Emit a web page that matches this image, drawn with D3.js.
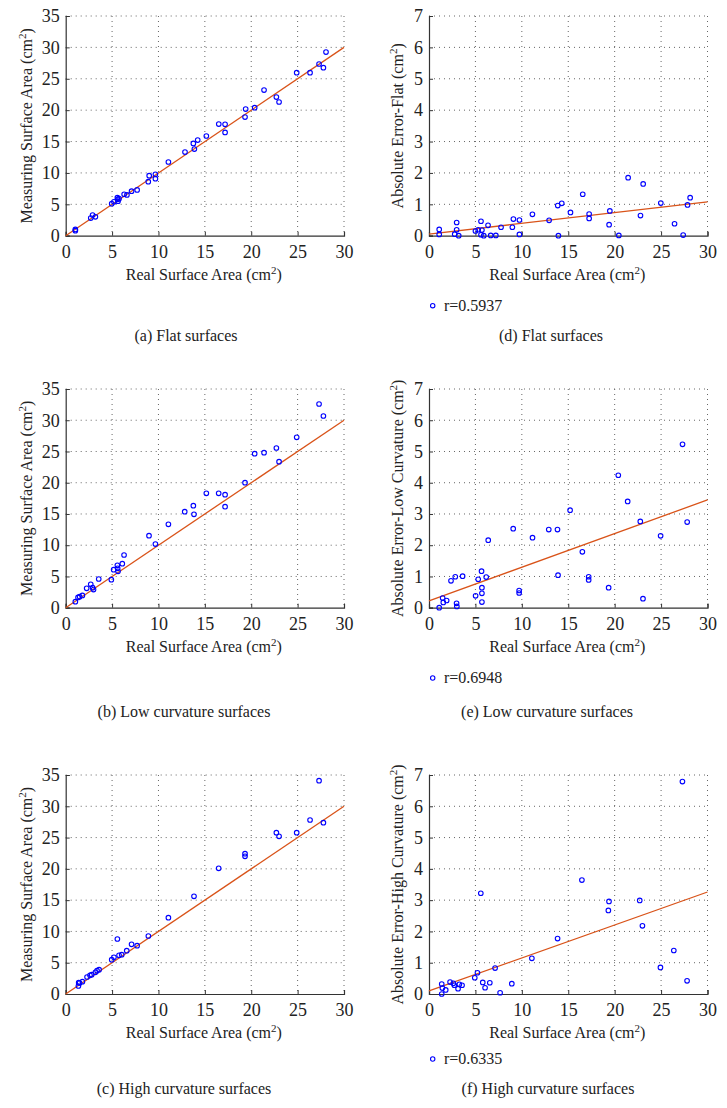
<!DOCTYPE html>
<html>
<head>
<meta charset="utf-8">
<script src="https://cdn.jsdelivr.net/npm/d3@7"></script>
<style>
  html, body { margin: 0; padding: 0; background: #fff; }
  svg text { font-family: "Liberation Serif", "DejaVu Serif", serif; fill: #222; }
</style>
</head>
<body>
<svg id="chart" width="727" height="1108"></svg>
<script>
// ---------- DATA ----------
const xTicks = [0, 5, 10, 15, 20, 25, 30];
const measuredTicks = [0, 5, 10, 15, 20, 25, 30, 35];
const errorTicks = [0, 1, 2, 3, 4, 5, 6, 7];

// (a) Flat surfaces: real vs measured
const flatX = [1.04, 1.04, 2.7, 2.9, 3.2, 4.96, 5.2, 5.57, 5.6, 5.64, 5.75, 6.3, 6.6, 7.1, 7.7, 8.9, 9.0, 9.67, 9.67, 11.07, 12.86, 13.76, 13.87, 14.23, 15.16, 16.5, 17.18, 17.18, 19.33, 19.4, 20.37, 21.38, 22.71, 23.0, 24.9, 26.34, 27.31, 27.78, 28.06];
const flatMeasured = [1.0, 0.8, 2.8, 3.3, 3.0, 5.1, 5.4, 6.05, 5.8, 5.5, 5.9, 6.6, 6.5, 7.1, 7.3, 8.6, 9.56, 9.77, 9.08, 11.74, 13.33, 14.7, 13.8, 15.24, 15.88, 17.79, 17.74, 16.46, 18.9, 20.18, 20.39, 23.2, 22.09, 21.3, 25.97, 25.97, 27.35, 26.77, 29.26];

// (d) Flat surfaces: absolute error
const flatErrX = [1.1, 1.1, 2.77, 2.98, 2.98, 3.2, 5.0, 5.3, 5.6, 5.7, 5.6, 5.9, 6.36, 6.65, 7.2, 7.76, 8.98, 9.09, 9.74, 9.74, 11.14, 12.94, 13.87, 13.94, 14.3, 15.24, 16.56, 17.25, 17.25, 19.4, 19.48, 20.45, 21.45, 22.78, 23.07, 24.97, 26.45, 27.38, 27.85, 28.13];
const flatErr = [0.2, 0.04, 0.05, 0.42, 0.19, 0.0, 0.15, 0.19, 0.46, 0.18, 0.03, 0.0, 0.33, 0.01, 0.01, 0.27, 0.27, 0.53, 0.5, 0.04, 0.68, 0.49, 0.96, 0.0, 1.03, 0.74, 1.32, 0.69, 0.55, 0.35, 0.79, 0.01, 1.85, 0.64, 1.65, 1.04, 0.38, 0.02, 0.98, 1.21];

// (b) Low curvature surfaces: real vs measured
const lowX = [1.04, 1.33, 1.5, 1.8, 2.26, 2.7, 2.9, 3.0, 3.56, 4.92, 5.17, 5.57, 5.6, 5.64, 6.1, 6.29, 8.98, 9.67, 11.07, 12.83, 13.76, 13.83, 15.16, 16.49, 17.18, 17.18, 19.33, 20.37, 21.38, 22.71, 23.0, 24.9, 27.31, 27.78];
const lowMeasured = [0.96, 1.65, 1.76, 1.97, 3.1, 3.74, 3.2, 2.9, 4.59, 4.48, 6.08, 6.78, 6.3, 5.82, 7.04, 8.43, 11.53, 10.19, 13.34, 15.37, 16.33, 14.94, 18.3, 18.3, 18.09, 16.17, 20.01, 24.65, 24.81, 25.56, 23.37, 27.27, 32.6, 30.68];

// (e) Low curvature surfaces: absolute error
const lowErrX = [1.1, 1.47, 1.54, 1.9, 2.37, 2.83, 2.97, 3.0, 3.62, 5.02, 5.3, 5.66, 5.7, 5.7, 5.7, 6.16, 6.38, 9.07, 9.71, 9.71, 11.15, 12.9, 13.84, 13.9, 15.2, 16.52, 17.2, 17.2, 19.35, 20.39, 21.4, 22.76, 23.05, 24.95, 27.31, 27.81];
const lowErr = [0.0, 0.31, 0.17, 0.23, 0.86, 0.99, 0.14, 0.04, 1.01, 0.38, 0.91, 1.17, 0.64, 0.46, 0.18, 0.98, 2.16, 2.53, 0.55, 0.47, 2.24, 2.5, 2.5, 1.04, 3.12, 1.79, 0.99, 0.89, 0.64, 4.24, 3.4, 2.76, 0.29, 2.3, 5.23, 2.74];

// (c) High curvature surfaces: real vs measured
const highX = [1.37, 1.4, 1.5, 1.8, 2.3, 2.62, 2.8, 3.2, 3.38, 3.6, 4.96, 5.2, 5.57, 5.75, 6.04, 6.58, 7.1, 7.7, 8.91, 11.07, 13.83, 16.49, 19.33, 19.33, 22.71, 23.0, 24.9, 26.34, 27.31, 27.78];
const highMeasured = [1.28, 1.81, 1.76, 1.97, 2.72, 2.98, 3.09, 3.46, 3.73, 3.89, 5.49, 5.86, 8.79, 6.18, 6.29, 6.93, 7.94, 7.72, 9.27, 12.2, 15.61, 20.09, 22.43, 22.0, 25.79, 25.2, 25.79, 27.81, 34.1, 27.38];

// (f) High curvature surfaces: absolute error
const highErrX = [1.37, 1.37, 1.44, 1.8, 2.27, 2.63, 2.73, 3.13, 3.27, 3.56, 4.93, 5.22, 5.58, 5.79, 6.04, 6.55, 7.12, 7.66, 8.92, 11.08, 13.85, 16.47, 19.32, 19.39, 22.7, 22.99, 24.93, 26.37, 27.3, 27.8];
const highErr = [0.32, 0.0, 0.19, 0.13, 0.38, 0.34, 0.28, 0.17, 0.31, 0.28, 0.52, 0.68, 3.22, 0.37, 0.2, 0.36, 0.83, 0.04, 0.33, 1.14, 1.77, 3.64, 2.67, 2.96, 2.99, 2.18, 0.85, 1.39, 6.79, 0.42];

// fitted lines: value at x = 0 and x = 30
const fitX = [0, 30];
const fitMeasured = [0, 30];
const fitFlatErr = [0.05, 1.08];
const fitLowErr = [0.22, 3.45];
const fitHighErr = [0.1, 3.26];

const rLabels = ["r=0.5937", "r=0.6948", "r=0.6335"];
const titles = ["(a) Flat surfaces", "(b) Low curvature surfaces", "(c) High curvature surfaces",
                "(d) Flat surfaces", "(e) Low curvature surfaces", "(f) High curvature surfaces"];

// ---------- LAYOUT ----------
const svg = d3.select("#chart");
const colL = [65.7, 344];
const colR = [429, 707.5];
const rows = [[16, 235.7], [389, 607.7], [775, 994]];
const titleY = [341, 717, 1094];
const legendY = [305.7, 678, 1059];

const panels = [
  {xr: colL, yr: rows[0], xs: flatX, ys: flatMeasured, fit: fitMeasured, ymax: 35, yt: measuredTicks, ylab: "Measuring Surface Area", ylabOff: 34, title: titles[0], titleX: 186},
  {xr: colL, yr: rows[1], xs: lowX, ys: lowMeasured, fit: fitMeasured, ymax: 35, yt: measuredTicks, ylab: "Measuring Surface Area", ylabOff: 34, title: titles[1], titleX: 184},
  {xr: colL, yr: rows[2], xs: highX, ys: highMeasured, fit: fitMeasured, ymax: 35, yt: measuredTicks, ylab: "Measuring Surface Area", ylabOff: 34, title: titles[2], titleX: 184},
  {xr: colR, yr: rows[0], xs: flatErrX, ys: flatErr, fit: fitFlatErr, ymax: 7, yt: errorTicks, ylab: "Absolute Error-Flat", ylabOff: 26, title: titles[3], titleX: 551, r: rLabels[0], ly: legendY[0]},
  {xr: colR, yr: rows[1], xs: lowErrX, ys: lowErr, fit: fitLowErr, ymax: 7, yt: errorTicks, ylab: "Absolute Error-Low Curvature", ylabOff: 26, title: titles[4], titleX: 547, r: rLabels[1], ly: legendY[1]},
  {xr: colR, yr: rows[2], xs: highErrX, ys: highErr, fit: fitHighErr, ymax: 7, yt: errorTicks, ylab: "Absolute Error-High Curvature", ylabOff: 26, title: titles[5], titleX: 548, r: rLabels[2], ly: legendY[2]}
];

const ri = [0, 1, 2, 0, 1, 2];
panels.forEach((p, i) => {
  const x = d3.scaleLinear().domain([0, 30]).range(p.xr);
  const y = d3.scaleLinear().domain([0, p.ymax]).range([p.yr[1], p.yr[0]]);
  const g = svg.append("g");

  // grid (dotted)
  g.append("g").selectAll("line").data(xTicks.filter(t => t > 0)).join("line")
    .attr("x1", d => x(d)).attr("x2", d => x(d)).attr("y1", p.yr[0]).attr("y2", p.yr[1])
    .attr("stroke", "#666").attr("stroke-width", 1).attr("stroke-dasharray", "1,4");
  g.append("g").selectAll("line").data(p.yt.filter(t => t > 0)).join("line")
    .attr("x1", p.xr[0]).attr("x2", p.xr[1]).attr("y1", d => y(d)).attr("y2", d => y(d))
    .attr("stroke", "#666").attr("stroke-width", 1).attr("stroke-dasharray", "1,4");

  // axes
  const xa = g.append("g").attr("transform", `translate(0,${p.yr[1]})`)
    .call(d3.axisBottom(x).tickValues(xTicks).tickSize(-4).tickPadding(8).tickFormat(d3.format("d")));
  const ya = g.append("g").attr("transform", `translate(${p.xr[0]},0)`)
    .call(d3.axisLeft(y).tickValues(p.yt).tickSize(-4).tickPadding(6).tickFormat(d3.format("d")));
  [xa, ya].forEach(a => {
    a.select(".domain").attr("stroke", "#333").attr("stroke-width", 1.2);
    a.selectAll(".tick line").attr("stroke", "#333");
    a.selectAll(".tick text").attr("font-size", 18).attr("font-family", "Liberation Serif").attr("fill", "#222");
  });
  xa.selectAll(".tick text").attr("dy", "0.78em");

  // fit line
  g.append("line")
    .attr("x1", x(fitX[0])).attr("y1", y(p.fit[0]))
    .attr("x2", x(fitX[1])).attr("y2", y(p.fit[1]))
    .attr("stroke", "#D95319").attr("stroke-width", 1.3);

  // points
  g.append("g").selectAll("circle").data(p.xs.map((v, k) => [v, p.ys[k]])).join("circle")
    .attr("cx", d => x(d[0])).attr("cy", d => y(d[1])).attr("r", 2.3)
    .attr("fill", "none").attr("stroke", "#0000ff").attr("stroke-width", 1.1);

  // x label
  const xl = g.append("text").attr("x", (p.xr[0] + p.xr[1]) / 2 - 1).attr("y", p.yr[1] + 44)
    .attr("text-anchor", "middle").attr("font-size", 16);
  xl.append("tspan").text("Real Surface Area (cm");
  xl.append("tspan").attr("dy", -6).attr("font-size", 11).text("2");
  xl.append("tspan").attr("dy", 6).text(")");

  // y label
  const cx = p.xr[0] - p.ylabOff, cy = (p.yr[0] + p.yr[1]) / 2;
  const yl = g.append("text").attr("transform", `translate(${cx},${cy}) rotate(-90)`)
    .attr("text-anchor", "middle").attr("font-size", 16);
  yl.append("tspan").text(p.ylab + " (cm");
  yl.append("tspan").attr("dy", -6).attr("font-size", 11).text("2");
  yl.append("tspan").attr("dy", 6).text(")");

  // legend
  if (p.r) {
    g.append("circle").attr("cx", 432.7).attr("cy", p.ly).attr("r", 2.2)
      .attr("fill", "none").attr("stroke", "#0000ff").attr("stroke-width", 1.1);
    g.append("text").attr("x", 444).attr("y", p.ly + 5).attr("font-size", 16).text(p.r);
  }

  // title
  svg.append("text").attr("x", p.titleX).attr("y", titleY[ri[i]])
    .attr("text-anchor", "middle").attr("font-size", 16).text(p.title);
});
</script>
</body>
</html>
